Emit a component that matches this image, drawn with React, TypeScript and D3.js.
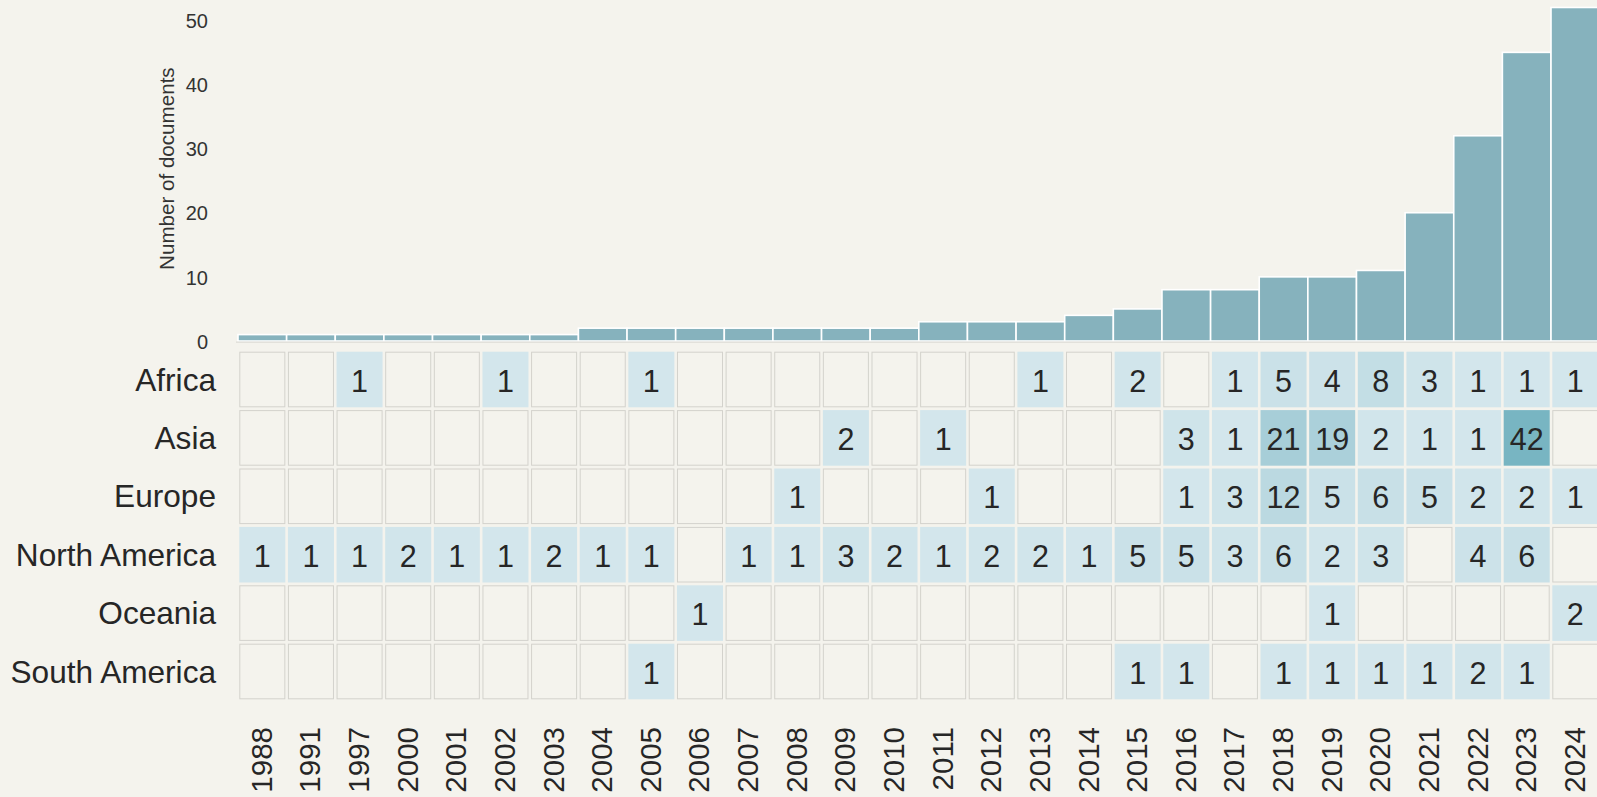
import * as React from 'react';
import * as d3 from 'd3';

const years = [
  '1988', '1991', '1997', '2000', '2001', '2002', '2003', '2004', '2005', '2006',
  '2007', '2008', '2009', '2010', '2011', '2012', '2013', '2014', '2015', '2016',
  '2017', '2018', '2019', '2020', '2021', '2022', '2023', '2024',
];

const totals = [
  1, 1, 1, 1, 1, 1, 1, 2, 2, 2,
  2, 2, 2, 2, 3, 3, 3, 4, 5, 8,
  8, 10, 10, 11, 20, 32, 45, 52,
];

const regions = ['Africa', 'Asia', 'Europe', 'North America', 'Oceania', 'South America'];

const N = null;
const africa = [N, N, 1, N, N, 1, N, N, 1, N, N, N, N, N, N, N, 1, N, 2, N, 1, 5, 4, 8, 3, 1, 1, 1];
const asia = [N, N, N, N, N, N, N, N, N, N, N, N, 2, N, 1, N, N, N, N, 3, 1, 21, 19, 2, 1, 1, 42, N];
const europe = [N, N, N, N, N, N, N, N, N, N, N, 1, N, N, N, 1, N, N, N, 1, 3, 12, 5, 6, 5, 2, 2, 1];
const northAmerica = [1, 1, 1, 2, 1, 1, 2, 1, 1, N, 1, 1, 3, 2, 1, 2, 2, 1, 5, 5, 3, 6, 2, 3, N, 4, 6, N];
const oceania = [N, N, N, N, N, N, N, N, N, 1, N, N, N, N, N, N, N, N, N, N, N, N, 1, N, N, N, N, 2];
const southAmerica = [N, N, N, N, N, N, N, N, 1, N, N, N, N, N, N, N, N, N, 1, 1, N, 1, 1, 1, 1, 2, 1, N];

const counts: (number | null)[][] = [africa, asia, europe, northAmerica, oceania, southAmerica];

const yTicks = [0, 10, 20, 30, 40, 50];

const BG = '#f4f3ed';
const FONT = '"Liberation Sans", Arial, sans-serif';

export default function App() {
  const width = 1597;
  const height = 797;
  const step = 48.63;
  const left = 238;

  const x = d3
    .scaleBand<string>()
    .domain(years)
    .range([left, left + step * years.length]);

  const yBar = d3.scaleLinear().domain([0, 50]).range([341, 20.3]);

  const yRow = d3.scaleBand<string>().domain(regions).range([350.3, 700.7]);

  const maxVal = d3.max(counts.flat().filter((v) => v != null) as number[]) as number;
  const color = d3.scaleLinear<string>().domain([1, maxVal]).range(['#d3e6ec', '#78b5c2']);

  const bw = x.bandwidth();
  const rh = yRow.bandwidth();

  return (
    <div style={{ position: 'absolute', left: 0, top: 0, width, height, overflow: 'hidden', background: BG }}>
      <svg width={width} height={height} style={{ display: 'block', fontFamily: FONT }}>
        <rect x={0} y={0} width={width} height={height} fill={BG} />

        {/* bar chart on top */}
        <g>
          {years.map((yr, i) => (
            <rect
              key={yr}
              x={x(yr)!}
              y={yBar(totals[i])}
              width={bw}
              height={yBar(0) - yBar(totals[i])}
              fill="#86b2bd"
              stroke="#ffffff"
              strokeWidth={1.6}
            />
          ))}
          <line x1={236} x2={width} y1={yBar(0) + 1.2} y2={yBar(0) + 1.2} stroke="#dcdbd5" strokeWidth={1.2} />
          {yTicks.map((t) => (
            <text
              key={t}
              x={208}
              y={yBar(t) + 0.7}
              textAnchor="end"
              dominantBaseline="central"
              fontSize={20}
              fill="#333333"
            >
              {t}
            </text>
          ))}
          <text
            transform={`translate(166, ${(yBar(0) + yBar(50)) / 2 - 12}) rotate(-90)`}
            textAnchor="middle"
            dominantBaseline="central"
            fontSize={20.6}
            fill="#333333"
          >
            Number of documents
          </text>
        </g>

        {/* heatmap */}
        <g>
          {regions.map((reg, r) =>
            years.map((yr, c) => {
              const v = counts[r][c];
              const cx = x(yr)! + 1.3;
              const cy = yRow(reg)! + 1.4;
              const w = bw - 2.6;
              const h = rh - 2.8;
              if (v == null) {
                return (
                  <rect
                    key={reg + yr}
                    x={cx + 0.5}
                    y={cy + 0.5}
                    width={w - 1}
                    height={h - 1}
                    fill={BG}
                    stroke="#d3d2cc"
                    strokeWidth={1}
                  />
                );
              }
              return (
                <g key={reg + yr}>
                  <rect x={cx} y={cy} width={w} height={h} fill={color(v)} />
                  <text
                    x={x(yr)! + bw / 2}
                    y={yRow(reg)! + rh / 2 + 1}
                    textAnchor="middle"
                    dominantBaseline="central"
                    fontSize={30.5}
                    fill="#262626"
                  >
                    {v}
                  </text>
                </g>
              );
            })
          )}
          {regions.map((reg) => (
            <text
              key={reg}
              x={216}
              y={yRow(reg)! + rh / 2}
              textAnchor="end"
              dominantBaseline="central"
              fontSize={31.6}
              fill="#262626"
            >
              {reg}
            </text>
          ))}
          {years.map((yr) => (
            <text
              key={yr}
              transform={`translate(${x(yr)! + bw / 2 - 1}, 727) rotate(-90)`}
              textAnchor="end"
              dominantBaseline="central"
              fontSize={29.5}
              fill="#262626"
            >
              {yr}
            </text>
          ))}
        </g>
      </svg>
    </div>
  );
}
